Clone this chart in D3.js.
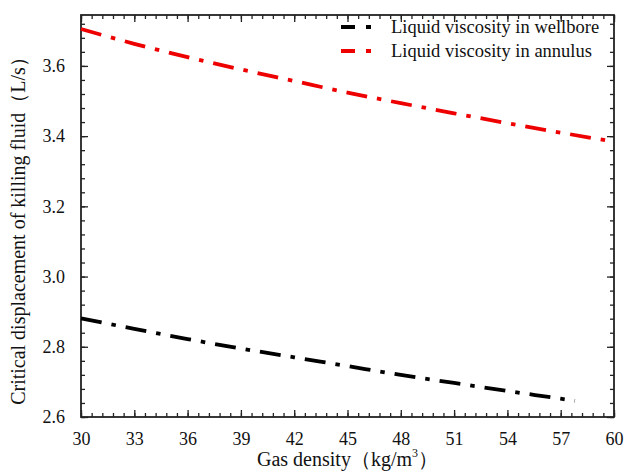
<!DOCTYPE html>
<html>
<head>
<meta charset="utf-8">
<script src="https://cdn.jsdelivr.net/npm/d3@7"></script>
<style>
  html, body { margin: 0; padding: 0; background: #fff; }
  svg text { font-family: "Liberation Serif", "Times New Roman", serif; fill: #111; }
</style>
</head>
<body>
<svg id="chart" width="625" height="474"></svg>
<script>
// Gas density (kg/m^3)
const densityWellbore = [30, 33, 36, 39, 42, 45, 48, 51, 54, 57, 57.8];
const dispWellbore    = [2.881, 2.851, 2.822, 2.795, 2.770, 2.745, 2.720, 2.697, 2.674, 2.652, 2.646];
const densityAnnulus  = [30, 33, 36, 39, 42, 45, 48, 51, 54, 57, 60];
const dispAnnulus     = [3.705, 3.663, 3.625, 3.590, 3.557, 3.524, 3.494, 3.465, 3.437, 3.410, 3.384];

const seriesNames  = ["Liquid viscosity in wellbore", "Liquid viscosity in annulus"];
const seriesColors = ["#000000", "#ee0000"];

const xTicks = [30, 33, 36, 39, 42, 45, 48, 51, 54, 57, 60];
const yTicks = [2.6, 2.8, 3.0, 3.2, 3.4, 3.6];

const FONT = '"Liberation Serif", "Times New Roman", serif';

const W = 625, H = 474;
const m = { left: 81, top: 15, right: 11, bottom: 57 };
const iw = W - m.left - m.right, ih = H - m.top - m.bottom;

const svg = d3.select("#chart");
const g = svg.append("g").attr("transform", `translate(${m.left},${m.top})`);

const x = d3.scaleLinear().domain([30, 60]).range([0, iw]);
const y = d3.scaleLinear().domain([2.6, 3.745]).range([ih, 0]);

const xMinor = d3.range(30, 60.001, 0.6).map(v => +v.toFixed(2));
const yMinor = d3.range(2.6, 3.745, 0.04).map(v => +v.toFixed(2));

const fmtY = d3.format(".1f");

// ticks point inward on all four sides
function styleAxis(sel) {
  sel.attr("font-family", FONT);
  sel.select(".domain").remove();
  sel.selectAll("line").attr("stroke", "#222").attr("stroke-width", 1.3);
}

g.append("g").attr("transform", `translate(0,${ih})`)
  .call(d3.axisBottom(x).tickValues(xMinor).tickSize(-4).tickFormat(""))
  .call(styleAxis);
g.append("g").attr("transform", `translate(0,${ih})`)
  .call(d3.axisBottom(x).tickValues(xTicks).tickSize(-7).tickPadding(15).tickFormat(d3.format("d")))
  .call(styleAxis)
  .selectAll("text").attr("font-size", 18).attr("font-family", FONT).attr("fill", "#111");

// top mirror axis
g.append("g")
  .call(d3.axisTop(x).tickValues(xMinor).tickSize(-4).tickFormat(""))
  .call(styleAxis);
g.append("g")
  .call(d3.axisTop(x).tickValues(xTicks).tickSize(-7).tickFormat(""))
  .call(styleAxis);

// left axis
g.append("g")
  .call(d3.axisLeft(y).tickValues(yMinor).tickSize(-4).tickFormat(""))
  .call(styleAxis);
g.append("g")
  .call(d3.axisLeft(y).tickValues(yTicks).tickSize(-7).tickPadding(16).tickFormat(fmtY))
  .call(styleAxis)
  .selectAll("text").attr("font-size", 18).attr("font-family", FONT).attr("fill", "#111");

// right mirror axis
g.append("g").attr("transform", `translate(${iw},0)`)
  .call(d3.axisRight(y).tickValues(yMinor).tickSize(-4).tickFormat(""))
  .call(styleAxis);
g.append("g").attr("transform", `translate(${iw},0)`)
  .call(d3.axisRight(y).tickValues(yTicks).tickSize(-7).tickFormat(""))
  .call(styleAxis);

// frame
g.append("rect").attr("width", iw).attr("height", ih)
  .attr("fill", "none").attr("stroke", "#222").attr("stroke-width", 1.8);

// curves
const line = d3.line().x(d => x(d[0])).y(d => y(d[1])).curve(d3.curveMonotoneX);
const dash = "21,10,4.5,10";

const series = [
  { xs: densityWellbore, ys: dispWellbore },
  { xs: densityAnnulus,  ys: dispAnnulus }
];
series.forEach((s, i) => {
  g.append("path")
    .datum(s.xs.map((v, k) => [v, s.ys[k]]))
    .attr("d", line)
    .attr("fill", "none")
    .attr("stroke", seriesColors[i])
    .attr("stroke-width", 3.8)
    .attr("stroke-dasharray", dash);
});

// legend
const lg = svg.append("g");
seriesNames.forEach((name, i) => {
  const ly = 27 + i * 24;
  lg.append("line")
    .attr("x1", 341).attr("x2", 373).attr("y1", ly).attr("y2", ly)
    .attr("stroke", seriesColors[i]).attr("stroke-width", 3.8)
    .attr("stroke-dasharray", "14,11,5,20");
  lg.append("text")
    .attr("x", 391).attr("y", ly + 6)
    .attr("font-size", 18.5)
    .text(name);
});

// axis titles
const xt = svg.append("text")
  .attr("x", m.left + iw / 2).attr("y", H - 8)
  .attr("text-anchor", "middle").attr("font-size", 20);
xt.append("tspan").text("Gas density（kg/m");
xt.append("tspan").attr("font-size", 12).attr("dy", -9).text("3");
xt.append("tspan").attr("dy", 9).text("）");

svg.append("text")
  .attr("transform", `translate(25,226) rotate(-90)`)
  .attr("text-anchor", "middle").attr("font-size", 20)
  .text("Critical displacement of killing fluid（L/s）");
</script>
</body>
</html>
